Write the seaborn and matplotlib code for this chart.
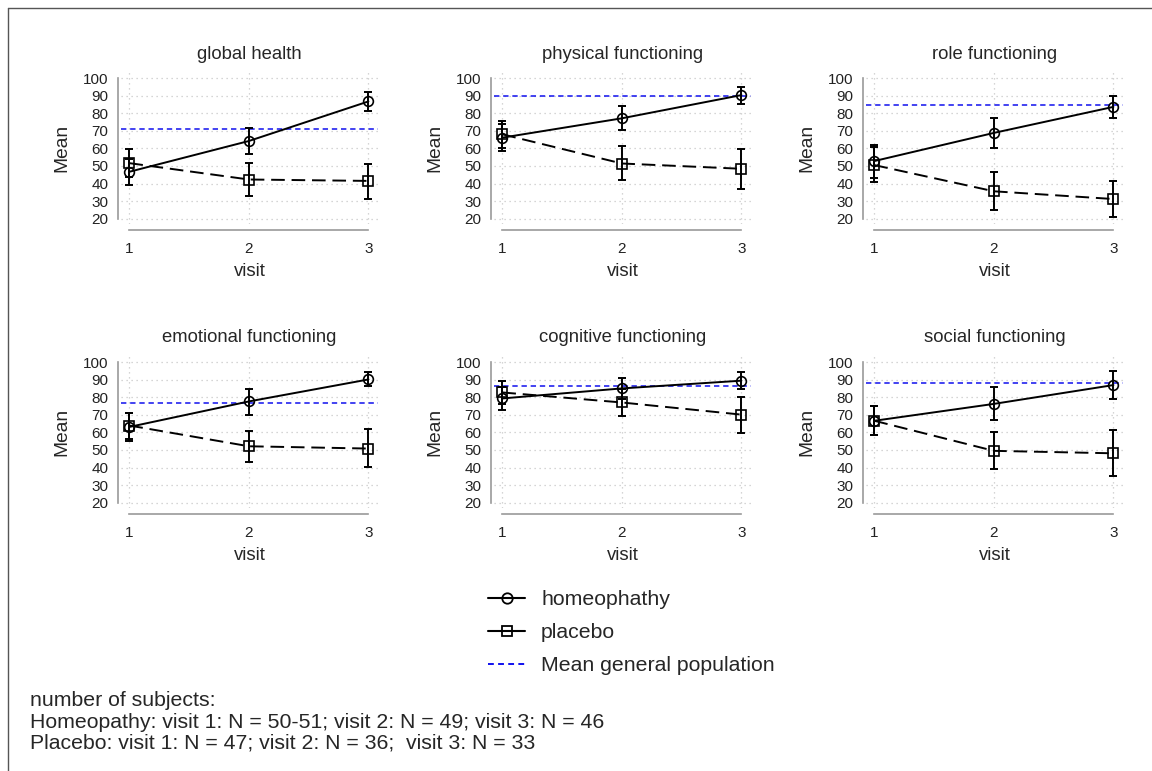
import numpy as np
import pandas as pd
import matplotlib
matplotlib.use("Agg")
import matplotlib.pyplot as plt
from matplotlib.lines import Line2D
import seaborn as sns

# data
visits = [1, 2, 3]
domains = ["global health", "physical functioning", "role functioning",
           "emotional functioning", "cognitive functioning", "social functioning"]

homeo_mean = [[46.7, 64.2, 86.7],
              [66.1, 77.1, 90.3],
              [52.8, 68.8, 83.6],
              [63.1, 77.6, 90.1],
              [79.3, 85.0, 89.4],
              [66.6, 76.2, 86.9]]
homeo_lo = [[39.4, 56.6, 81.3],
            [58.5, 70.5, 85.5],
            [43.3, 60.2, 77.0],
            [55.0, 70.0, 86.1],
            [72.8, 79.0, 84.4],
            [58.6, 66.9, 79.1]]
homeo_hi = [[54.0, 71.6, 92.0],
            [73.6, 84.0, 95.0],
            [62.1, 77.5, 89.9],
            [71.3, 84.6, 94.1],
            [85.8, 90.9, 94.5],
            [74.9, 85.7, 94.7]]

placebo_mean = [[51.6, 42.3, 41.5],
                [68.0, 51.4, 48.4],
                [50.5, 35.6, 31.2],
                [63.9, 52.1, 50.8],
                [82.7, 77.0, 70.1],
                [66.6, 49.5, 48.1]]
placebo_lo = [[43.5, 32.8, 31.4],
              [60.2, 42.1, 36.9],
              [41.1, 24.8, 21.1],
              [56.0, 43.4, 40.5],
              [76.1, 69.3, 59.4],
              [58.6, 39.2, 35.4]]
placebo_hi = [[59.5, 51.8, 51.4],
              [75.8, 61.1, 59.8],
              [61.0, 46.3, 41.3],
              [71.0, 60.9, 61.8],
              [89.3, 84.7, 80.2],
              [74.9, 60.1, 61.6]]

pop_mean = [71.2, 90.0, 84.9, 76.5, 86.3, 88.0]

y_ticks = [20, 30, 40, 50, 60, 70, 80, 90, 100]

footnote = ["number of subjects:",
            "Homeopathy: visit 1: N = 50-51; visit 2: N = 49; visit 3: N = 46",
            "Placebo: visit 1: N = 47; visit 2: N = 36;  visit 3: N = 33"]

sns.set_style("white")
plt.rcParams["font.family"] = ["Liberation Sans", "DejaVu Sans"]

W, H = 1152, 771
fig = plt.figure(figsize=(W / 100, H / 100), dpi=100)

SPINE = "#9a9a9a"
BLUE = "#1010ee"


def px_axes(left, top, width, height):
    return fig.add_axes([left / W, 1 - (top + height) / H, width / W, height / H])


col_left = [121, 494, 866]
row_top = [71, 355]

for i, name in enumerate(domains):
    ax = px_axes(col_left[i % 3], row_top[i // 3], 257, 153)

    df = pd.DataFrame({
        "visit": visits * 2,
        "mean": homeo_mean[i] + placebo_mean[i],
        "group": ["homeopathy"] * 3 + ["placebo"] * 3,
    })

    # grid first so it stays underneath
    for yv in y_ticks:
        ax.axhline(yv, color="#c8c8c8", lw=0.9, ls=(0, (1, 3)), zorder=0)
    for xv in visits:
        ax.axvline(xv, color="#c8c8c8", lw=0.9, ls=(0, (1, 3)), zorder=0)

    ax.axhline(pop_mean[i], color=BLUE, lw=1.1, dashes=(3.5, 2.5), zorder=1)

    sns.lineplot(data=df, x="visit", y="mean", hue="group", style="group",
                 palette={"homeopathy": "black", "placebo": "black"},
                 markers={"homeopathy": "o", "placebo": "s"},
                 dashes={"homeopathy": "", "placebo": (7, 3.5)},
                 markersize=7, markerfacecolor="none",
                 markeredgecolor="black", markeredgewidth=1.2,
                 lw=1.4, legend=False, ax=ax, zorder=3)

    for m, lo, hi in [(homeo_mean[i], homeo_lo[i], homeo_hi[i]),
                      (placebo_mean[i], placebo_lo[i], placebo_hi[i])]:
        m = np.array(m)
        yerr = [m - np.array(lo), np.array(hi) - m]
        ax.errorbar(visits, m, yerr=yerr, fmt="none", ecolor="black",
                    elinewidth=1.4, capsize=3, capthick=1.4, zorder=2)

    ax.set_xlim(0.93, 3.08)
    ax.set_ylim(17, 104)
    ax.set_xticks(visits)
    ax.set_yticks(y_ticks)
    ax.set_title(name, fontsize=13.3, pad=9)
    ax.set_xlabel("visit", fontsize=13.3, labelpad=5)
    ax.set_ylabel("Mean", fontsize=13.8, labelpad=9)

    for s in ["top", "right"]:
        ax.spines[s].set_visible(False)
    ax.spines["left"].set_position(("outward", 2.2))
    ax.spines["bottom"].set_position(("outward", 4.3))
    ax.spines["left"].set_bounds(20, 100)
    ax.spines["bottom"].set_bounds(1, 3)
    for s in ["left", "bottom"]:
        ax.spines[s].set_color(SPINE)
        ax.spines[s].set_linewidth(1.2)
    ax.tick_params(axis="both", direction="out", length=5, width=1.1,
                   color=SPINE, labelsize=11, labelcolor="#222222", pad=2)
    ax.tick_params(axis="x", pad=4)

handles = [
    Line2D([], [], color="black", lw=1.5, marker="o", markersize=7.5,
           markerfacecolor="none", markeredgewidth=1.3),
    Line2D([], [], color="black", lw=1.5, marker="s", markersize=7.5,
           markerfacecolor="none", markeredgewidth=1.3),
    Line2D([], [], color=BLUE, lw=1.4, dashes=(3, 2.2)),
]
fig.legend(handles, ["homeophathy", "placebo", "Mean general population"],
           loc="upper left", bbox_to_anchor=(488 / W, 1 - 590 / H),
           frameon=False, fontsize=15.3, handlelength=1.75, handletextpad=0.75,
           labelspacing=0.66, borderpad=0, borderaxespad=0)

for k, line in enumerate(footnote):
    fig.text(30 / W, 1 - (701 + k * 21) / H, line, fontsize=15.3,
             va="center", ha="left")

# outer frame (top and left edges only)
fig.add_artist(Line2D([8 / W, 1], [1 - 8 / H, 1 - 8 / H], color="#555555", lw=1))
fig.add_artist(Line2D([8 / W, 8 / W], [0, 1 - 8 / H], color="#555555", lw=1))

fig.savefig("out.png", dpi=100)
